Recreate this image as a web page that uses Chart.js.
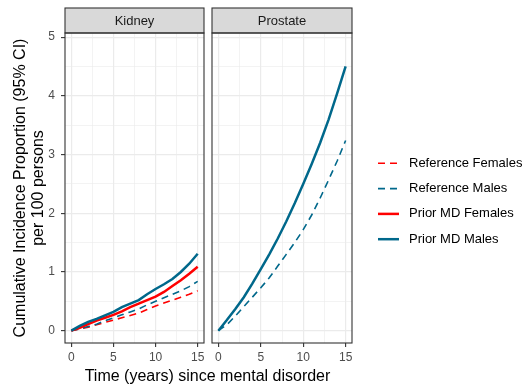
<!DOCTYPE html>
<html>
<head>
<meta charset="utf-8">
<script src="https://cdn.jsdelivr.net/npm/chart.js@4.4.1/dist/chart.umd.min.js"></script>
<style>
body { margin:0; background:#fff; width:525px; height:390px; position:relative; overflow:hidden; font-family:'Liberation Sans', Arial, sans-serif; }
#c1 { position:absolute; left:0; top:0; }
#c2 { position:absolute; left:210px; top:0; }
#xtitle { position:absolute; left:0; top:367px; width:415px; text-align:center; font-size:16px; line-height:18px; color:#000; }
</style>
</head>
<body>
<canvas id="c1" width="210" height="390"></canvas>
<canvas id="c2" width="315" height="390"></canvas>
<div id="xtitle">Time (years) since mental disorder</div>
<script>
/* 값 */
var years = [0, 1, 2, 3, 4, 5, 6, 7, 8, 9, 10, 11, 12, 13, 14, 15];
var kidneyRefFemales   = [0, 0.03, 0.06, 0.10, 0.14, 0.18, 0.22, 0.26, 0.30, 0.36, 0.42, 0.47, 0.52, 0.57, 0.62, 0.68];
var kidneyRefMales     = [0, 0.03, 0.07, 0.11, 0.17, 0.22, 0.27, 0.32, 0.37, 0.44, 0.50, 0.56, 0.62, 0.68, 0.75, 0.84];
var kidneyPriorFemales = [0, 0.05, 0.11, 0.17, 0.22, 0.27, 0.33, 0.40, 0.46, 0.52, 0.58, 0.66, 0.76, 0.86, 0.97, 1.09];
var kidneyPriorMales   = [0, 0.08, 0.15, 0.20, 0.26, 0.32, 0.40, 0.46, 0.52, 0.62, 0.71, 0.79, 0.88, 1.00, 1.14, 1.31];
var prostateRefMales   = [0, 0.10, 0.25, 0.41, 0.57, 0.73, 0.90, 1.10, 1.30, 1.50, 1.72, 1.97, 2.26, 2.57, 2.89, 3.24];
var prostatePriorMales = [0, 0.18, 0.37, 0.57, 0.80, 1.05, 1.30, 1.57, 1.86, 2.17, 2.50, 2.84, 3.20, 3.60, 4.04, 4.50];

var xTicks = [0, 5, 10, 15];
var xGrid = [0, 2.5, 5, 7.5, 10, 12.5, 15];
var yTicks = [0, 1, 2, 3, 4, 5];
var yGrid = [0, 0.5, 1, 1.5, 2, 2.5, 3, 3.5, 4, 4.5, 5];
var seriesNames = ["Reference Females", "Reference Males", "Prior MD Females", "Prior MD Males"];

var FONT = "'Liberation Sans', Arial, sans-serif";
var RED = "#FF0000";
var TEAL = "#00688B";
var styles = {
    "Reference Females": { color: RED, width: 1.6, dash: [7, 5] },
    "Reference Males": { color: TEAL, width: 1.6, dash: [7, 5] },
    "Prior MD Females": { color: RED, width: 2.5, dash: [] },
    "Prior MD Males": { color: TEAL, width: 2.5, dash: [] }
};

function makeSet(name, values) {
    var st = styles[name];
    return {
        label: name,
        data: years.map(function(x, i) { return { x: x, y: values[i] }; }),
        borderColor: st.color,
        borderWidth: st.width,
        borderDash: st.dash,
        pointRadius: 0,
        tension: 0,
        fill: false
    };
}

function isIn(list, v) {
    return list.indexOf(v) >= 0;
}

function xScale() {
    return {
        type: 'linear',
        min: -0.75,
        max: 15.75,
        afterBuildTicks: function(s) { s.ticks = xGrid.map(function(v) { return { value: v }; }); },
        afterFit: function(s) { s.height = 47; },
        border: { display: false },
        ticks: {
            autoSkip: false, maxRotation: 0, padding: 3, color: '#4D4D4D',
            font: { size: 12, family: FONT },
            callback: function(v) { return isIn(xTicks, v) ? String(v) : ''; }
        },
        grid: {
            color: '#EBEBEB',
            lineWidth: function(c) { return isIn(xTicks, c.tick.value) ? 1.2 : 0.6; },
            tickLength: 4,
            tickWidth: 1.1,
            tickColor: function(c) { return isIn(xTicks, c.tick.value) ? '#333333' : 'rgba(0,0,0,0)'; }
        }
    };
}

function yScale(withLabels) {
    var sc = {
        type: 'linear',
        min: -0.21,
        max: 5.07,
        afterBuildTicks: function(s) { s.ticks = yGrid.map(function(v) { return { value: v }; }); },
        afterFit: function(s) { s.width = withLabels ? 65 : 0; },
        border: { display: false },
        ticks: {
            display: withLabels, autoSkip: false, padding: 6, color: '#4D4D4D',
            font: { size: 12, family: FONT },
            callback: function(v) { return isIn(yTicks, v) ? String(v) : ''; }
        },
        grid: {
            color: '#EBEBEB',
            lineWidth: function(c) { return isIn(yTicks, c.tick.value) ? 1.2 : 0.6; },
            drawTicks: withLabels,
            tickLength: 4,
            tickWidth: 1.1,
            tickColor: function(c) { return isIn(yTicks, c.tick.value) ? '#333333' : 'rgba(0,0,0,0)'; }
        }
    };
    if (withLabels) {
        sc.title = {
            display: true,
            text: ["Cumulative Incidence Proportion (95% CI)", "per 100 persons"],
            color: '#000',
            font: { size: 16, family: FONT, lineHeight: 1.15 },
            padding: { top: 11, bottom: 0 }
        };
    }
    return sc;
}

/* 패널 테두리와 제목 띠 */
var panelPlugin = {
    id: 'panel',
    afterDraw: function(chart, args, opts) {
        var a = chart.chartArea, ctx = chart.ctx;
        ctx.save();
        ctx.fillStyle = '#D9D9D9';
        ctx.fillRect(a.left, 8, a.right - a.left, a.top - 8);
        ctx.strokeStyle = '#333333';
        ctx.lineWidth = 1.1;
        ctx.strokeRect(a.left, 8, a.right - a.left, a.top - 8);
        ctx.strokeRect(a.left, a.top, a.right - a.left, a.bottom - a.top);
        ctx.fillStyle = '#1A1A1A';
        ctx.font = '13px ' + FONT;
        ctx.textAlign = 'center';
        ctx.textBaseline = 'middle';
        ctx.fillText(opts.label, (a.left + a.right) / 2, (8 + a.top) / 2 + 0.5);
        ctx.restore();
    }
};

/* 범례 */
var legendPlugin = {
    id: 'keyLegend',
    afterDraw: function(chart, args, opts) {
        if (!opts.show) return;
        var ctx = chart.ctx;
        ctx.save();
        ctx.font = '13px ' + FONT;
        ctx.textAlign = 'left';
        ctx.textBaseline = 'middle';
        for (var i = 0; i < seriesNames.length; i++) {
            var st = styles[seriesNames[i]];
            var y = 163.3 + i * 25.3;
            ctx.strokeStyle = st.color;
            ctx.lineWidth = st.width;
            ctx.setLineDash(st.dash);
            ctx.beginPath();
            ctx.moveTo(168, y);
            ctx.lineTo(189, y);
            ctx.stroke();
            ctx.setLineDash([]);
            ctx.fillStyle = '#000';
            ctx.fillText(seriesNames[i], 199, y);
        }
        ctx.restore();
    }
};

Chart.register(panelPlugin, legendPlugin);

window.onload = function() {
    new Chart(document.getElementById('c1').getContext('2d'), {
        type: 'line',
        data: {
            datasets: [
                makeSet("Prior MD Males", kidneyPriorMales),
                makeSet("Prior MD Females", kidneyPriorFemales),
                makeSet("Reference Males", kidneyRefMales),
                makeSet("Reference Females", kidneyRefFemales)
            ]
        },
        options: {
            responsive: false,
            animation: false,
            layout: { padding: { top: 33, right: 6, left: 0, bottom: 0 } },
            plugins: {
                legend: { display: false },
                tooltip: { enabled: false },
                panel: { label: 'Kidney' },
                keyLegend: { show: false }
            },
            scales: { x: xScale(), y: yScale(true) }
        }
    });

    new Chart(document.getElementById('c2').getContext('2d'), {
        type: 'line',
        data: {
            datasets: [
                makeSet("Prior MD Males", prostatePriorMales),
                makeSet("Reference Males", prostateRefMales)
            ]
        },
        options: {
            responsive: false,
            animation: false,
            layout: { padding: { top: 33, right: 173, left: 2, bottom: 0 } },
            plugins: {
                legend: { display: false },
                tooltip: { enabled: false },
                panel: { label: 'Prostate' },
                keyLegend: { show: true }
            },
            scales: { x: xScale(), y: yScale(false) }
        }
    });
};
</script>
</body>
</html>
